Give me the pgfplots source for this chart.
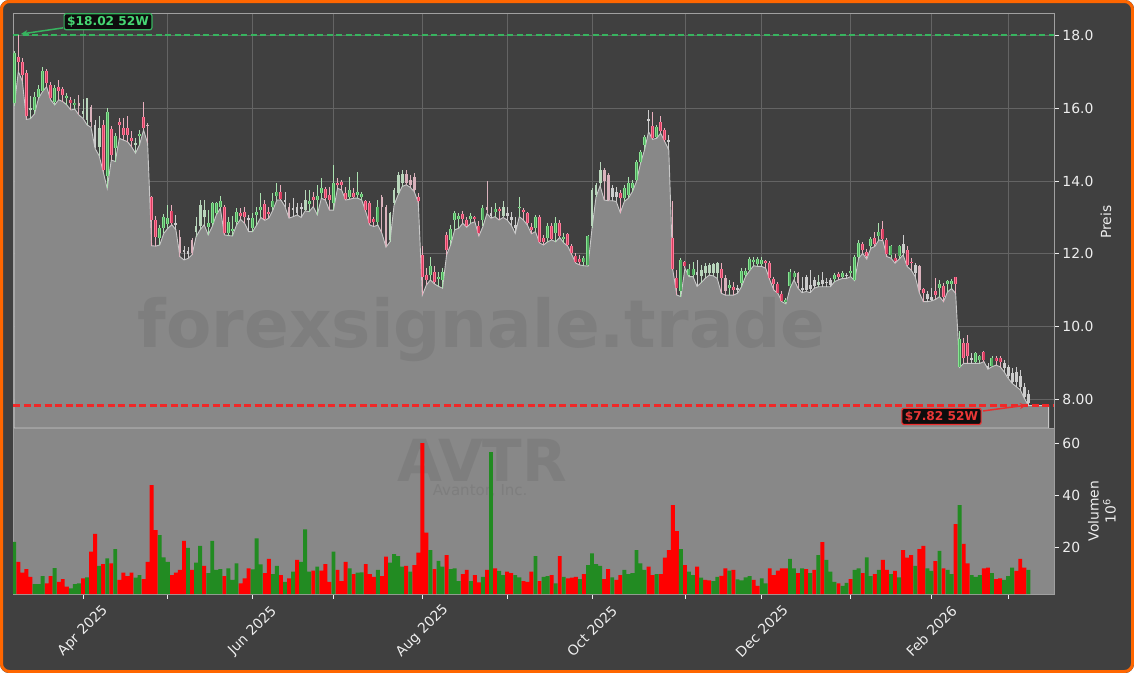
\documentclass[border=0pt]{standalone}
\usepackage{pgfplots}
\pgfplotsset{compat=1.18}
\usepackage{pgfplotstable}
\usepackage{fontspec}
\setmainfont{DejaVu Sans}
\usetikzlibrary{arrows.meta}

\definecolor{bgdark}{RGB}{64,64,64}
\definecolor{areagray}{RGB}{136,136,136}
\definecolor{arealine}{RGB}{200,200,200}
\definecolor{gridcol}{RGB}{100,100,100}
\definecolor{spine}{RGB}{160,160,160}
\definecolor{frameor}{RGB}{255,102,0}
\definecolor{ticktext}{RGB}{238,238,238}
\definecolor{gEdge}{RGB}{135,228,145}
\definecolor{gFill}{RGB}{80,170,95}
\definecolor{gWick}{RGB}{170,225,175}
\definecolor{rEdge}{RGB}{255,125,155}
\definecolor{rFill}{RGB}{215,60,95}
\definecolor{rWick}{RGB}{235,175,190}
\definecolor{pgCol}{RGB}{185,215,188}
\definecolor{prCol}{RGB}{218,178,188}
\definecolor{pnCol}{RGB}{205,205,205}
\definecolor{volred}{RGB}{255,0,0}
\definecolor{volgreen}{RGB}{34,139,34}
\definecolor{hiGreen}{RGB}{55,180,95}
\definecolor{hiText}{RGB}{70,215,115}
\definecolor{loRed}{RGB}{235,45,45}
\definecolor{loLine}{RGB}{240,40,40}
\definecolor{loText}{RGB}{235,55,55}
\definecolor{wm}{RGB}{126,126,126}

\newcommand\ticksize{\fontsize{13.9bp}{16bp}\selectfont}

% i open high low close type volume(1e6) volcolour(1=green,0=red)
\pgfplotstableread{
i o h l c t v vc
0 16.15 17.57 16.07 17.52 1 22.0 1
1 17.42 18.02 17.02 17.28 2 14.3 0
2 17.29 17.38 16.75 16.93 2 10.1 0
3 16.97 17.06 15.70 15.78 2 11.5 0
4 15.95 16.35 15.72 16.00 3 8.5 0
5 15.96 16.45 15.85 16.31 1 5.7 1
6 16.33 16.65 16.28 16.54 1 5.7 1
7 16.49 17.13 16.47 17.04 1 8.8 1
8 17.02 17.10 16.60 16.70 2 6.0 0
9 16.65 16.74 16.24 16.28 2 8.8 0
10 16.19 16.65 16.10 16.56 1 11.9 1
11 16.60 16.79 16.24 16.49 2 6.6 0
12 16.53 16.60 16.19 16.37 2 7.6 0
13 16.30 16.42 16.10 16.35 1 4.7 0
14 16.24 16.33 15.96 16.15 2 4.1 1
15 16.10 16.26 15.98 16.15 1 5.7 1
16 16.15 16.36 15.82 16.08 4 6.0 1
17 15.85 16.26 15.73 15.92 3 7.9 0
18 15.69 16.30 15.55 16.28 3 8.3 1
19 16.03 16.10 15.48 15.64 4 18.2 0
20 15.55 15.69 14.90 14.95 5 25.0 0
21 14.95 15.80 14.70 15.45 3 12.7 1
22 15.55 15.69 14.26 14.31 2 13.4 0
23 14.13 16.00 13.80 15.89 1 15.6 1
24 15.43 15.51 14.58 14.72 2 13.7 0
25 14.91 15.32 14.54 15.23 1 19.2 1
26 15.64 15.73 15.18 15.55 2 7.3 0
27 15.46 15.73 15.13 15.27 2 10.1 0
28 15.46 15.78 15.09 15.27 2 8.8 0
29 15.18 15.37 14.95 15.10 2 10.1 0
30 15.00 15.18 14.77 15.06 3 8.2 1
31 15.23 15.41 15.00 15.29 1 9.2 1
32 15.76 16.19 15.41 15.46 2 7.6 0
33 15.55 15.60 15.04 15.51 4 14.3 0
34 13.56 13.60 12.22 12.93 2 43.8 0
35 12.93 13.05 12.21 12.47 2 26.5 0
36 12.43 12.80 12.24 12.70 1 24.6 1
37 12.70 13.10 12.56 13.00 1 16.0 1
38 12.82 13.34 12.70 12.98 1 14.3 1
39 13.19 13.34 12.80 12.86 2 9.2 0
40 12.85 13.08 12.66 12.78 5 10.1 0
41 12.47 12.66 11.92 12.01 4 11.2 0
42 12.05 12.20 11.83 12.10 5 22.4 0
43 12.00 12.19 11.87 12.08 5 19.7 1
44 12.38 12.44 11.97 12.02 4 11.2 0
45 12.60 13.01 12.47 12.75 3 14.0 1
46 12.75 13.47 12.66 13.34 3 20.4 1
47 13.00 13.49 12.80 13.20 3 12.7 0
48 12.73 13.20 12.52 12.84 1 9.9 1
49 12.84 13.43 12.75 13.40 1 22.4 1
50 13.11 13.43 13.07 13.39 1 11.2 1
51 13.30 13.60 13.25 13.46 1 11.5 1
52 13.30 13.34 12.52 12.56 2 8.8 0
53 12.56 13.02 12.50 12.88 1 11.8 1
54 12.62 13.05 12.49 12.68 1 7.3 1
55 12.88 13.25 12.79 13.16 1 13.7 1
56 13.13 13.25 12.95 13.04 2 6.0 0
57 13.16 13.28 12.84 13.02 2 7.9 0
58 12.98 13.07 12.61 12.92 5 11.8 0
59 12.70 13.11 12.61 12.98 1 11.4 1
60 13.07 13.30 12.79 13.16 1 23.3 1
61 13.20 13.67 13.00 13.30 1 13.3 1
62 13.37 13.48 12.92 12.95 2 9.9 0
63 13.16 13.30 12.98 13.09 2 15.4 0
64 13.30 13.67 13.20 13.45 1 9.6 1
65 13.59 13.94 13.48 13.71 1 12.7 1
66 13.71 13.90 13.48 13.52 2 9.2 0
67 13.48 13.71 13.30 13.42 5 6.6 1
68 13.30 13.39 12.98 13.02 4 7.9 0
69 13.20 13.53 13.02 13.26 5 10.5 1
70 13.30 13.39 13.07 13.12 5 15.0 0
71 13.22 13.39 13.00 13.28 5 14.3 1
72 13.20 13.76 13.18 13.48 3 26.8 1
73 13.37 13.76 13.16 13.44 1 10.5 1
74 13.57 13.71 13.30 13.48 2 10.9 0
75 13.48 13.90 13.07 13.59 1 12.4 1
76 13.66 14.08 13.53 13.80 1 10.9 0
77 13.78 13.85 13.48 13.53 2 13.4 0
78 13.62 13.85 13.20 13.48 2 6.6 0
79 13.39 14.45 13.20 13.94 1 18.2 1
80 13.94 14.08 13.80 13.88 2 11.2 0
81 13.97 14.03 13.76 13.88 2 6.9 0
82 13.68 13.85 13.48 13.52 2 14.3 0
83 13.57 14.12 13.50 13.76 1 11.8 1
84 13.68 13.80 13.53 13.57 2 9.6 0
85 13.62 14.24 13.53 13.71 1 10.1 1
86 13.57 13.71 13.48 13.64 1 10.2 1
87 13.44 13.48 13.16 13.20 2 13.4 0
88 13.39 13.44 12.79 12.84 2 9.6 0
89 12.95 13.02 12.75 12.88 2 8.5 0
90 12.88 13.48 12.79 13.30 1 11.2 1
91 13.57 13.62 12.56 13.30 4 8.8 0
92 13.30 13.34 12.18 12.24 4 16.3 0
93 12.38 13.16 12.33 13.11 3 14.0 1
94 13.39 13.80 13.34 13.76 3 17.3 1
95 13.66 14.26 13.62 14.17 3 16.5 1
96 13.95 14.30 13.85 14.20 3 12.4 1
97 14.20 14.30 13.90 13.94 4 12.7 0
98 14.03 14.16 13.83 13.88 4 10.5 1
99 14.12 14.21 13.71 13.76 4 13.0 0
100 13.57 13.66 13.41 13.44 2 17.8 0
101 11.97 12.20 10.86 11.37 2 60.0 0
102 11.42 11.60 11.14 11.28 2 25.5 0
103 11.42 11.92 11.28 11.65 1 18.8 1
104 11.51 11.65 11.17 11.23 2 11.5 0
105 11.30 11.51 11.10 11.35 1 14.7 1
106 11.28 11.60 11.05 11.51 1 12.4 1
107 12.52 12.61 11.97 12.10 2 16.9 0
108 12.38 12.80 12.24 12.68 1 11.5 1
109 12.93 13.18 12.66 13.13 1 11.8 1
110 12.95 13.13 12.70 13.05 1 6.9 1
111 13.10 13.18 12.84 12.95 2 9.6 0
112 12.93 13.02 12.73 12.77 2 11.2 0
113 12.95 13.13 12.84 13.04 1 6.9 1
114 13.02 13.05 12.88 12.96 2 9.2 0
115 12.75 12.89 12.49 12.56 2 6.4 0
116 12.93 13.34 12.75 13.27 1 8.5 1
117 13.30 13.99 13.11 13.20 4 11.2 0
118 13.05 13.30 12.98 13.12 5 56.5 1
119 13.16 13.41 13.02 13.22 1 11.8 0
120 13.22 13.30 12.93 13.17 2 10.8 1
121 13.05 13.44 13.00 13.30 3 9.2 1
122 13.12 13.30 12.93 13.05 5 10.5 0
123 12.92 13.16 12.79 13.00 5 9.9 0
124 12.70 13.02 12.56 12.78 5 9.2 1
125 13.25 13.57 13.02 13.30 1 8.3 1
126 13.21 13.27 12.93 13.16 2 6.9 0
127 13.11 13.16 12.79 12.84 2 6.6 0
128 12.73 12.84 12.55 12.64 2 10.5 0
129 12.70 13.07 12.61 13.00 1 16.5 1
130 13.00 13.07 12.30 12.33 2 6.9 0
131 12.42 12.52 12.24 12.33 2 8.5 1
132 12.42 12.84 12.33 12.75 1 8.8 1
133 12.77 12.86 12.38 12.40 2 9.2 0
134 12.58 13.00 12.33 12.86 1 6.0 1
135 12.86 12.93 12.45 12.49 2 16.5 0
136 12.40 12.56 12.30 12.47 1 8.5 1
137 12.53 12.58 12.21 12.24 2 7.9 0
138 12.20 12.27 11.97 12.01 2 8.2 0
139 11.94 12.01 11.74 11.78 2 8.5 0
140 11.85 11.97 11.69 11.78 2 7.6 1
141 11.78 11.94 11.67 11.87 1 9.6 0
142 11.69 12.52 11.66 12.49 1 13.0 1
143 12.75 13.80 12.70 13.76 3 17.5 1
144 13.62 13.94 13.57 13.89 3 13.4 1
145 13.94 14.54 13.87 14.31 3 12.7 1
146 14.31 14.35 13.48 13.99 4 7.6 0
147 14.17 14.22 13.46 13.48 4 11.5 0
148 13.80 13.90 13.46 13.57 5 8.3 1
149 13.70 13.85 13.44 13.57 5 7.3 0
150 13.67 13.76 13.13 13.53 2 9.2 0
151 13.53 13.89 13.44 13.80 1 11.2 1
152 13.62 14.12 13.53 13.94 1 9.6 1
153 13.80 14.03 13.71 13.94 1 9.9 1
154 14.03 14.59 13.99 14.54 1 18.8 1
155 14.54 14.86 14.49 14.81 1 13.7 1
156 15.00 15.27 14.86 15.21 1 11.2 1
157 15.65 15.96 15.36 15.70 5 12.4 0
158 15.52 15.89 15.15 15.18 2 9.2 0
159 15.21 15.55 15.18 15.48 1 9.6 1
160 15.64 15.80 15.32 15.39 2 9.6 0
161 15.41 15.46 15.09 15.13 2 15.9 0
162 15.14 15.27 14.86 15.09 5 18.8 0
163 12.43 13.44 11.55 11.58 2 36.1 0
164 11.32 11.55 10.86 11.05 2 26.1 0
165 10.98 11.88 10.82 11.83 1 19.2 1
166 11.76 11.81 11.60 11.67 2 13.0 0
167 11.42 11.73 11.37 11.57 1 10.5 1
168 11.42 11.78 11.37 11.57 1 9.2 1
169 11.42 11.83 11.10 11.50 5 12.4 0
170 11.40 11.69 11.20 11.55 3 8.2 1
171 11.46 11.74 11.32 11.65 3 7.3 0
172 11.46 11.74 11.41 11.69 3 7.1 0
173 11.46 11.74 11.39 11.71 3 6.9 1
174 11.46 11.76 11.32 11.74 3 8.5 1
175 11.57 11.74 10.91 11.32 2 8.9 0
176 11.32 11.41 10.86 10.96 4 11.8 0
177 11.05 11.28 10.86 11.14 1 10.9 1
178 11.09 11.23 10.86 11.00 2 11.2 0
179 11.00 11.14 10.91 11.05 5 7.5 1
180 11.19 11.60 11.09 11.53 1 7.1 1
181 11.42 11.60 11.37 11.53 1 8.3 1
182 11.55 11.92 11.53 11.85 1 8.8 1
183 11.78 11.90 11.67 11.84 1 7.3 0
184 11.72 11.92 11.65 11.85 1 5.0 0
185 11.72 11.90 11.65 11.82 1 7.9 1
186 11.80 11.83 11.60 11.74 2 6.0 1
187 11.74 11.81 11.28 11.32 2 11.8 0
188 11.30 11.37 11.00 11.17 2 9.2 0
189 11.17 11.23 10.91 10.93 2 10.9 0
190 10.89 10.96 10.68 10.71 2 11.8 0
191 10.66 10.77 10.62 10.72 1 11.8 0
192 11.10 11.57 11.05 11.51 1 15.4 1
193 11.37 11.53 11.28 11.46 1 11.8 1
194 11.46 11.51 11.05 11.19 4 9.9 0
195 11.00 11.37 10.93 11.05 5 11.8 1
196 11.37 11.42 10.96 11.00 5 11.5 0
197 11.02 11.54 10.93 11.14 5 9.9 1
198 11.28 11.37 11.05 11.10 5 11.2 0
199 11.14 11.42 11.09 11.23 3 16.9 1
200 11.17 11.51 11.09 11.28 5 21.9 0
201 11.19 11.32 11.09 11.23 5 15.0 1
202 11.14 11.32 11.09 11.28 5 10.5 1
203 11.30 11.48 11.23 11.42 1 6.6 1
204 11.44 11.51 11.28 11.37 2 6.0 0
205 11.37 11.53 11.32 11.46 1 5.0 1
206 11.42 11.46 11.32 11.38 5 6.2 1
207 11.46 11.65 11.37 11.53 1 7.6 0
208 11.28 11.97 11.26 11.92 1 11.2 1
209 11.92 12.38 11.88 12.30 1 11.8 1
210 12.27 12.33 12.01 12.10 2 9.9 0
211 12.06 12.12 11.85 11.94 2 16.0 1
212 12.22 12.47 12.15 12.40 1 8.8 1
213 12.43 12.61 12.20 12.27 2 9.6 0
214 12.49 12.86 12.38 12.61 1 11.2 1
215 12.67 12.91 12.36 12.40 2 15.0 0
216 12.38 12.43 11.92 11.99 2 11.2 0
217 11.97 12.24 11.88 12.20 1 9.6 1
218 11.88 12.00 11.74 11.79 2 10.8 0
219 11.94 12.24 11.85 12.20 1 8.3 1
220 12.01 12.52 11.97 12.28 5 18.8 0
221 12.10 12.20 11.65 11.69 2 15.9 0
222 11.78 11.87 11.55 11.74 2 16.9 0
223 11.69 11.74 11.37 11.46 5 12.7 1
224 11.65 11.69 10.93 11.00 4 19.2 0
225 11.02 11.05 10.68 10.92 2 20.4 0
226 10.89 10.96 10.68 10.75 5 11.8 1
227 10.72 11.05 10.70 10.80 5 10.8 1
228 10.96 11.32 10.74 10.87 2 14.6 0
229 11.05 11.28 10.82 11.17 1 18.5 1
230 11.11 11.19 10.68 10.82 2 11.8 0
231 11.16 11.28 10.95 11.25 1 11.2 1
232 11.17 11.30 11.04 11.24 1 9.6 1
233 11.35 11.37 10.91 11.17 2 28.8 0
234 8.89 9.86 8.87 9.64 1 36.1 1
235 9.53 9.69 8.98 9.12 2 21.2 0
236 9.53 9.76 8.98 9.17 2 13.7 0
237 9.07 9.26 8.98 9.12 5 9.2 1
238 9.03 9.30 8.98 9.26 1 8.5 1
239 9.08 9.21 8.98 9.17 1 9.2 1
240 9.28 9.33 9.03 9.06 2 11.8 0
241 8.85 8.98 8.82 8.92 5 12.1 0
242 8.91 9.17 8.89 9.12 1 9.9 1
243 9.14 9.17 8.93 9.05 2 7.6 0
244 9.14 9.17 8.89 9.03 2 7.9 0
245 8.98 9.07 8.75 8.85 5 7.3 1
246 8.89 8.93 8.57 8.62 5 8.8 1
247 8.71 8.84 8.43 8.46 5 12.1 1
248 8.75 8.89 8.34 8.48 5 10.8 0
249 8.62 8.80 8.25 8.34 5 15.4 0
250 8.34 8.43 8.02 8.06 5 12.1 0
251 8.15 8.24 7.82 7.88 5 11.2 1
256 7.82 7.82 7.82 7.82 0 0 2
}\candles

\pgfplotsset{
  wick/.style n args={2}{draw=none, mark=none, forget plot,
    restrict expr to domain={\thisrow{t}}{#1:#1},
    error bars/.cd, y dir=plus, y explicit, error mark=none,
    error bar style={line width=0.9bp, draw=#2}},
  body/.style n args={3}{draw=none, mark=none, forget plot,
    restrict expr to domain={\thisrow{t}}{#1:#1},
    error bars/.cd, y dir=plus, y explicit, error mark=none,
    error bar style={line width=#3, draw=#2}},
}

\begin{document}
\begin{tikzpicture}
\path[use as bounding box] (0bp,0bp) rectangle (1134bp,-673bp);
\fill[white] (0bp,0bp) rectangle (1134bp,-673bp);
\fill[bgdark, rounded corners=9bp] (0bp,0bp) rectangle (1134bp,-673bp);
\draw[frameor, line width=3bp, rounded corners=8bp] (1.5bp,-1.5bp) rectangle (1132.5bp,-671.5bp);

% ---------------- price panel ----------------
\begin{axis}[
  at={(13bp,-428bp)}, anchor=south west,
  width=1041bp, height=415bp, scale only axis,
  xmin=-0.32, xmax=257.35, ymin=7.2, ymax=18.63,
  clip mode=individual,
  axis background/.style={fill=bgdark},
  axis line style={draw=spine, line width=0.8bp},
  xtick={17,38,59,79,101,122,143,166,185,207,227,246},
  xmajorticks=false,
  xmajorgrids=true, ymajorgrids=true,
  major grid style={draw=gridcol, line width=0.8bp},
  ytick={8,10,12,14,16,18},
  yticklabels={8.00,10.0,12.0,14.0,16.0,18.0},
  ytick pos=right, yticklabel pos=right,
  tick align=outside, major tick length=4.9bp,
  every tick/.style={draw=ticktext, line width=0.8bp},
  yticklabel style={font=\ticksize, text=ticktext, anchor=west},
]
\addplot[fill=areagray, draw=arealine, line width=0.9bp] table[x=i, y=l] {\candles} \closedcycle;

\node[font=\bfseries\fontsize{66bp}{70bp}\selectfont, text=wm] at (axis cs:115.7,9.92) {forexsignale.trade};

\addplot[draw=hiGreen, line width=1.6bp, dash pattern=on 6bp off 3.5bp, forget plot] coordinates {(-0.32,18.02) (257.35,18.02)};

% wicks
\addplot[wick={1}{gWick}] table[x=i, y=l, y error expr={\thisrow{h}-\thisrow{l}}] {\candles};
\addplot[wick={2}{rWick}] table[x=i, y=l, y error expr={\thisrow{h}-\thisrow{l}}] {\candles};
\addplot[wick={3}{pgCol}] table[x=i, y=l, y error expr={\thisrow{h}-\thisrow{l}}] {\candles};
\addplot[wick={4}{prCol}] table[x=i, y=l, y error expr={\thisrow{h}-\thisrow{l}}] {\candles};
\addplot[wick={5}{pnCol}] table[x=i, y=l, y error expr={\thisrow{h}-\thisrow{l}}] {\candles};
% bodies
\addplot[body={1}{gEdge}{3bp}] table[x=i, y expr={min(\thisrow{o},\thisrow{c})}, y error expr={abs(\thisrow{c}-\thisrow{o})}] {\candles};
\addplot[body={1}{gFill}{1.3bp}] table[x=i, y expr={min(\thisrow{o},\thisrow{c})}, y error expr={abs(\thisrow{c}-\thisrow{o})}] {\candles};
\addplot[body={2}{rEdge}{3bp}] table[x=i, y expr={min(\thisrow{o},\thisrow{c})}, y error expr={abs(\thisrow{c}-\thisrow{o})}] {\candles};
\addplot[body={2}{rFill}{1.3bp}] table[x=i, y expr={min(\thisrow{o},\thisrow{c})}, y error expr={abs(\thisrow{c}-\thisrow{o})}] {\candles};
\addplot[body={3}{pgCol}{2.8bp}] table[x=i, y expr={min(\thisrow{o},\thisrow{c})}, y error expr={abs(\thisrow{c}-\thisrow{o})}] {\candles};
\addplot[body={4}{prCol}{2.8bp}] table[x=i, y expr={min(\thisrow{o},\thisrow{c})}, y error expr={abs(\thisrow{c}-\thisrow{o})}] {\candles};
\addplot[body={5}{pnCol}{2.8bp}] table[x=i, y expr={min(\thisrow{o},\thisrow{c})}, y error expr={abs(\thisrow{c}-\thisrow{o})}] {\candles};

% 52-week low line
\addplot[draw=loLine, line width=2.2bp, dash pattern=on 7bp off 3.5bp, forget plot] coordinates {(-0.32,7.82) (257.35,7.82)};

% annotations
\draw[hiGreen, line width=1.5bp, -{Stealth[length=7bp,width=6bp]}] (axis cs:12.05,18.22) -- (axis cs:1.6,18.05);
\node[fill=black!80!bgdark, draw=hiGreen, line width=1.2bp, rounded corners=2bp, inner xsep=3bp, inner ysep=2.5bp, font=\bfseries\fontsize{12.2bp}{14bp}\selectfont, text=hiText] at (axis cs:23.2,18.39) {\$18.02 52W};
\draw[loRed, line width=1.5bp, -{Stealth[length=7bp,width=6bp]}] (axis cs:239.8,7.67) -- (axis cs:250.6,7.83);
\node[fill=black!80!bgdark, draw=loRed, line width=1.2bp, rounded corners=2bp, inner xsep=3bp, inner ysep=2.5bp, font=\bfseries\fontsize{12.2bp}{14bp}\selectfont, text=loText] at (axis cs:229.5,7.52) {\$7.82 52W};
\end{axis}

% ---------------- volume panel ----------------
\begin{axis}[
  at={(13bp,-594bp)}, anchor=south west,
  width=1041bp, height=166bp, scale only axis,
  xmin=-0.32, xmax=257.35, ymin=1.9, ymax=65.8,
  clip mode=individual,
  axis background/.style={fill=areagray},
  axis line style={draw=spine, line width=0.8bp},
  xtick={17,38,59,79,101,122,143,166,185,207,227,246},
  xticklabels={Apr 2025,,Jun 2025,,Aug 2025,,Oct 2025,,Dec 2025,,Feb 2026,},
  xtick pos=bottom,
  ytick={20,40,60},
  yticklabels={20,40,60},
  ytick pos=right, yticklabel pos=right,
  tick align=outside, major tick length=4.9bp,
  every tick/.style={draw=ticktext, line width=0.8bp},
  yticklabel style={font=\ticksize, text=ticktext, anchor=west},
  xticklabel style={font=\ticksize, text=ticktext, yshift=-32bp, rotate=45, anchor=center},
]
\node[font=\bfseries\fontsize{58bp}{60bp}\selectfont, text=wm] at (axis cs:115.8,53.4) {AVTR};
\node[font=\fontsize{15bp}{17bp}\selectfont, text=wm] at (axis cs:115.3,41.7) {Avantor, Inc.};
\addplot[ybar, bar width=3.9bp, bar shift=0pt, fill=volred, draw=none, forget plot,
  restrict expr to domain={\thisrow{vc}}{0:0}] table[x=i, y=v] {\candles};
\addplot[ybar, bar width=3.9bp, bar shift=0pt, fill=volgreen, draw=none, forget plot,
  restrict expr to domain={\thisrow{vc}}{1:1}] table[x=i, y=v] {\candles};
\end{axis}

\node[rotate=90, font=\ticksize, text=ticktext] at (1106bp,-222bp) {Preis};
\node[rotate=90, font=\ticksize, text=ticktext, align=center] at (1102bp,-511bp) {Volumen\\[1bp]10\textsuperscript{6}};
\end{tikzpicture}
\end{document}
